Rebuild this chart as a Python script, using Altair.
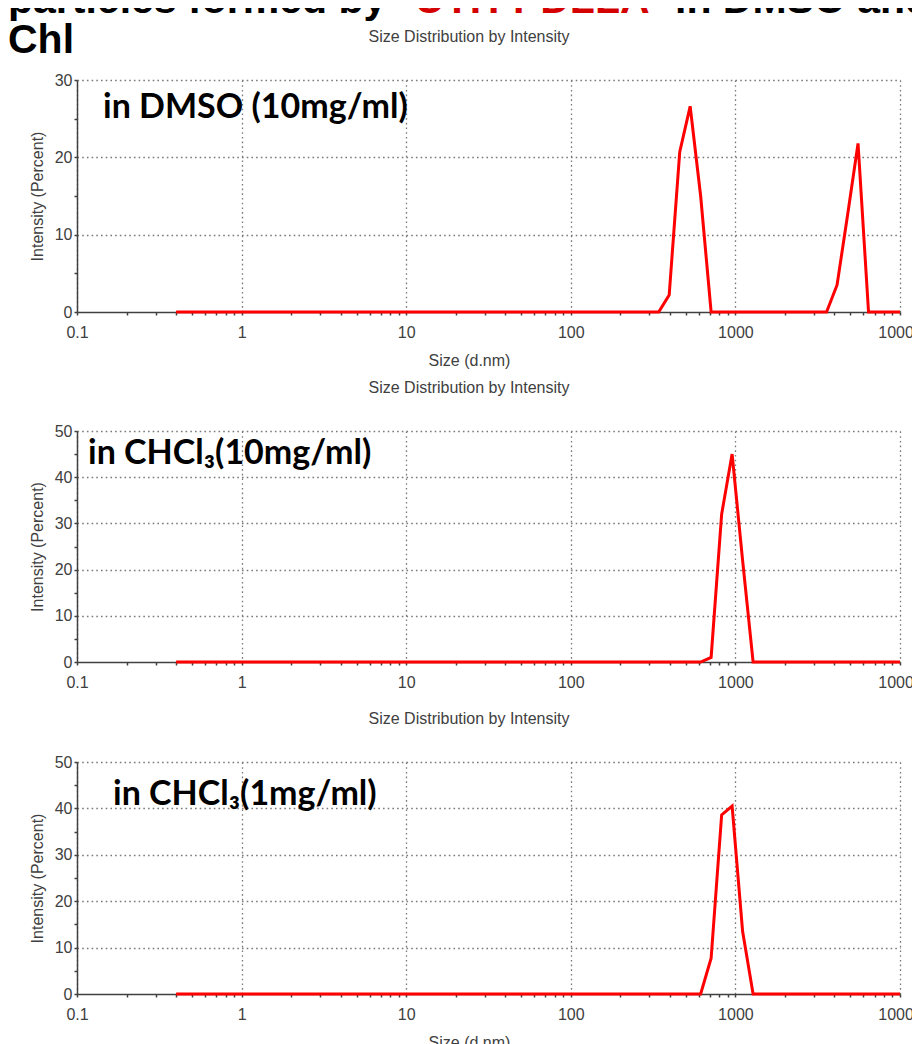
import altair as alt
import pandas as pd

# ---------------- data ----------------
size_dmso = [0.4, 342, 396, 459, 531, 615, 712, 3580, 4146, 4801, 5560, 6439, 10000]
int_dmso = [0, 0, 2.2, 20.7, 26.6, 15.0, 0, 0, 3.5, 12.5, 21.8, 0, 0]

size_chcl3_10 = [0.4, 615, 712, 825, 955, 1106, 1281, 10000]
int_chcl3_10 = [0, 0, 1.0, 32.0, 45.0, 22.0, 0, 0]

size_chcl3_1 = [0.4, 615, 712, 825, 955, 1106, 1281, 10000]
int_chcl3_1 = [0, 0, 7.7, 38.6, 40.5, 13.5, 0, 0]

panel_labels = ["in DMSO (10mg/ml)", "in CHCl\u2083(10mg/ml)", "in CHCl\u2083(1mg/ml)"]
panel_title = "Size Distribution by Intensity"
x_title = "Size (d.nm)"
y_title = "Intensity (Percent)"
head_black = "particles formed by"
head_red = "UTH-PDLLA"
head_tail = "in DMSO and"
head_line2 = "Chl"

x_tick_values = [m * 10.0 ** e for e in range(-1, 4) for m in range(1, 10)] + [10000]

AX = "#404040"
GRID = "#7a7a7a"
FONT = "Liberation Sans"

major_x = "abs(log(datum.value)/LN10 - round(log(datum.value)/LN10)) < 0.001"


def text_layer(txt, x, y, size, color="black", font=FONT, weight="bold", align="left"):
    return alt.Chart(pd.DataFrame({"t": [txt]})).mark_text(
        font=font, fontWeight=weight, fontSize=size, align=align,
        baseline="alphabetic", color=color
    ).encode(text="t:N", x=alt.value(x), y=alt.value(y))


def spacer(y):
    # invisible white rule that fixes the panel's outer bound
    return alt.Chart(pd.DataFrame({"k": [0]})).mark_rule(color="white", strokeWidth=1).encode(
        x=alt.value(0), x2=alt.value(1), y=alt.value(y))


def panel(sizes, vals, ymax, height, label, lx, ly, show_xtitle, extras):
    df = pd.DataFrame({"size": sizes, "intensity": vals})
    y_ticks = list(range(0, ymax + 1, 5))
    xaxis_kw = dict(
        values=x_tick_values,
        labelExpr=f"{major_x} ? format(datum.value, '') : ''",
        labelFlush=False,
        grid=True,
        gridOpacity={"condition": {"test": major_x, "value": 1}, "value": 0},
        labelPadding=9,
    )
    if show_xtitle:
        xaxis = alt.Axis(title=x_title, titlePadding=12, titleX=392, **xaxis_kw)
    else:
        xaxis = alt.Axis(title=None, **xaxis_kw)
    yaxis = alt.Axis(
        title=y_title,
        values=y_ticks,
        labelExpr="datum.value % 10 == 0 ? datum.label : ''",
        grid=True,
        gridOpacity={"condition": {"test": "datum.value % 10 == 0 && datum.value > 0",
                                   "value": 1}, "value": 0},
        labelPadding=2,
        titlePadding=9,
    )
    line = alt.Chart(df).mark_line(color="#ff0000", strokeWidth=3).encode(
        x=alt.X("size:Q", scale=alt.Scale(type="log", domain=[0.1, 10000], nice=False),
                axis=xaxis),
        y=alt.Y("intensity:Q", scale=alt.Scale(domain=[0, ymax], nice=False), axis=yaxis),
    )
    layers = [line,
              text_layer(panel_title, 392, -38, 16, color=AX, weight="normal", align="center"),
              text_layer(label, lx, ly, 34, font="Lato")] + extras
    return alt.layer(*layers).properties(width=823, height=height)


p1 = panel(size_dmso, int_dmso, 30, 232, panel_labels[0], 26, 38, True, [
    text_layer(head_black, -69, -67, 41),
    text_layer(head_red, 338, -67, 41, color="#d40000"),
    text_layer(head_tail, 598, -67, 41),
    text_layer(head_line2, -69, -27, 41),
    spacer(232 + 61),
])
p2 = panel(size_chcl3_10, int_chcl3_10, 50, 231, panel_labels[1], 11, 33, False, [
    spacer(-56), spacer(231 + 40),
])
p3 = panel(size_chcl3_1, int_chcl3_1, 50, 232, panel_labels[2], 36, 43, True, [
    spacer(-58),
])

chart = alt.vconcat(p1, p2, p3, spacing=0).properties(
    padding={"left": 0, "top": -28, "right": -19, "bottom": 0}
).configure_view(strokeWidth=0).configure_axis(
    domainColor=AX, domainWidth=1.5, tickColor=AX, tickWidth=1.5, tickSize=3,
    labelFont=FONT, labelFontSize=16, labelColor=AX,
    titleFont=FONT, titleFontSize=16, titleFontWeight="normal", titleColor=AX,
    gridColor=GRID, gridDash=[1.6, 3.1], gridWidth=1.3,
)

chart.save("out.html", embed_options={"renderer": "svg", "actions": False})
